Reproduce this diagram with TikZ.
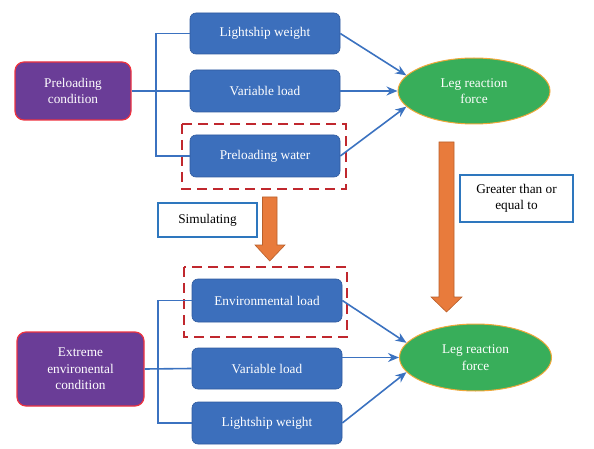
\documentclass[tikz,border=0pt]{standalone}
\usepackage{fontspec}
\setmainfont{Liberation Serif}
\usetikzlibrary{shapes.geometric,arrows.meta}
\definecolor{boxblue}{HTML}{3C6FBC}
\definecolor{boxblueb}{HTML}{2F5A9E}
\definecolor{purp}{HTML}{6A3D97}
\definecolor{purpb}{HTML}{EE3340}
\definecolor{grn}{HTML}{38AE5A}
\definecolor{grnb}{HTML}{F0A83A}
\definecolor{orng}{HTML}{E87B3C}
\definecolor{orngb}{HTML}{B8602C}
\definecolor{dred}{HTML}{C0282E}
\definecolor{lineblue}{HTML}{3B72C0}
\definecolor{wbord}{HTML}{2E77BE}
\tikzset{
  txt/.style={font=\fontsize{13.3}{16.6}\selectfont, align=center, inner sep=0pt},
  loadbox/.style={txt, rectangle, rounded corners=6pt, fill=boxblue, draw=boxblueb, line width=0.6pt, text=white, minimum width=150pt},
  condbox/.style={txt, rectangle, rounded corners=9pt, fill=purp, draw=purpb, line width=1.2pt, text=white},
  forceell/.style={txt, ellipse, fill=grn, draw=grnb, line width=1pt, text=white, minimum width=152pt, minimum height=66pt},
  notebox/.style={txt, rectangle, draw=wbord, line width=1.8pt, fill=white, text=black},
  dashbox/.style={draw=dred, line width=2.5pt, dash pattern=on 10pt off 6pt},
  conn/.style={draw=lineblue, line width=1.6pt},
  arr/.style={conn, -{Stealth[length=11pt,width=9pt]}},
  bigarrow/.style={fill=orng, draw=orngb, line width=0.6pt}
}
\begin{document}
\begin{tikzpicture}[x=1pt,y=-1pt]
\useasboundingbox (0,0) rectangle (594,449);
% top group
\draw[dashbox] (182,124) rectangle (346,189);
\node[condbox, minimum width=116pt, minimum height=58pt] (pc) at (73,91) {Preloading\\condition};
\node[loadbox, minimum height=41pt] (lw1) at (265,33.5) {Lightship weight};
\node[loadbox, minimum height=42pt] (vl1) at (265,91) {Variable load};
\node[loadbox, minimum height=42pt] (pw) at (265,156) {Preloading water};
\node[forceell] (lrf1) at (474,91) {Leg reaction\\force};
\coordinate (b1) at (156,91);
\draw[conn] (pc.east) -- (vl1.west);
\draw[conn] (lw1.west) -| (b1) |- (pw.west);
\draw[arr] (lw1.east) -- (lrf1.167);
\draw[arr] (vl1.east) -- (lrf1.west);
\draw[arr] (pw.east) -- (lrf1.193);
% notes and big arrows
\node[notebox, minimum width=113pt, minimum height=47pt] (gt) at (516.5,198.5) {Greater than or\\equal to};
\node[notebox, minimum width=99pt, minimum height=34pt] (sim) at (207.5,220) {Simulating};
\draw[bigarrow] (262.5,197) -- (277,197) -- (277,245) -- (285,245) -- (269.75,261) -- (255,245) -- (262.5,245) -- cycle;
\draw[bigarrow] (439,142) -- (454,142) -- (454,297) -- (462,297) -- (446.5,312) -- (431,297) -- (439,297) -- cycle;
% bottom group
\draw[dashbox] (184,267) rectangle (347,337);
\node[loadbox, minimum height=43pt] (env) at (267,300.5) {Environmental load};
\node[loadbox, minimum height=41pt] (vl2) at (267,368.5) {Variable load};
\node[loadbox, minimum height=42pt] (lw2) at (267,423) {Lightship weight};
\node[condbox, minimum width=127pt, minimum height=74pt] (ext) at (80.5,369) {Extreme\\environental\\condition};
\node[forceell, minimum height=67pt] (lrf2) at (475.5,357.5) {Leg reaction\\force};
\coordinate (b2) at (158,369);
\draw[conn] (ext.east) -- (vl2.west);
\draw[conn] (env.west) -| (b2) |- (lw2.west);
\draw[arr] (env.east) -- (lrf2.168);
\draw[arr] (vl2.east |- lrf2.west) -- (lrf2.west);
\draw[arr] (lw2.east) -- (lrf2.192);
\end{tikzpicture}
\end{document}
